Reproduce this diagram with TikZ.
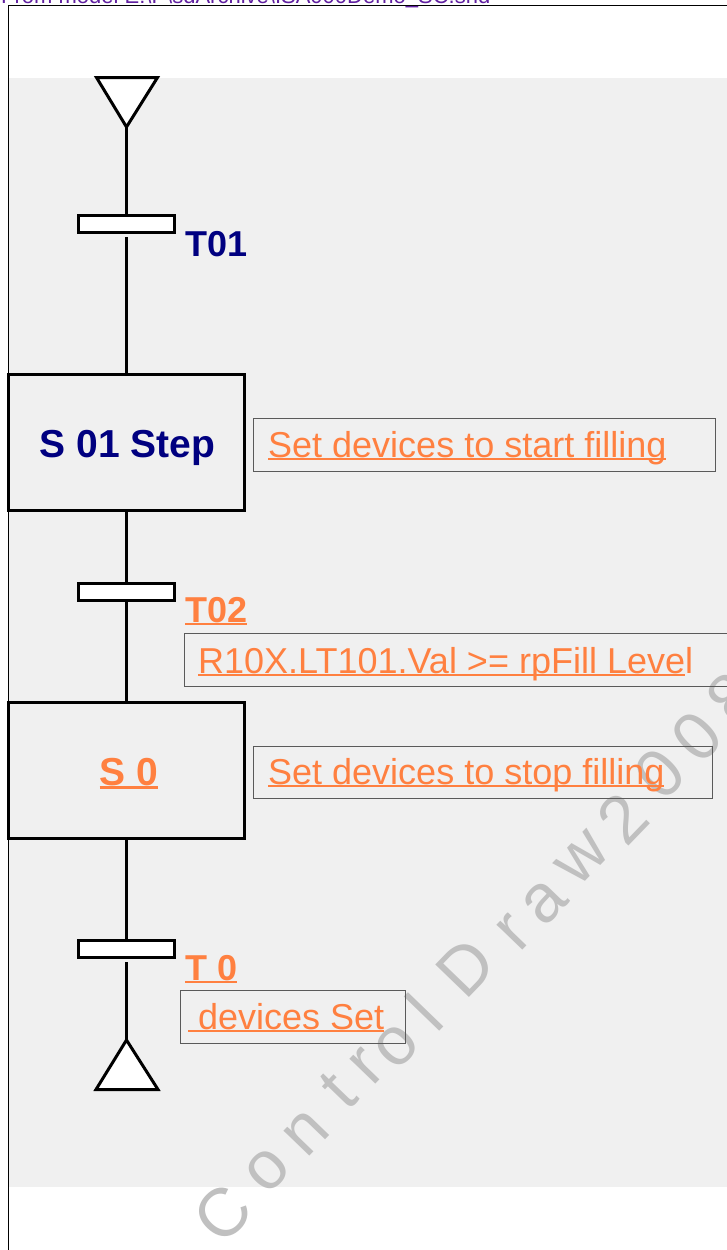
\documentclass[tikz,border=0pt]{standalone}
\usepackage{fontspec}
\setmainfont{Liberation Sans}
\definecolor{navyc}{RGB}{0,0,128}
\definecolor{orangec}{RGB}{255,128,64}
\definecolor{purplec}{RGB}{96,32,160}
\definecolor{bgc}{RGB}{240,240,240}
\definecolor{wmc}{RGB}{192,192,192}
\definecolor{boxc}{RGB}{90,90,90}
\newcommand\ulx[1]{\setbox0=\hbox{#1}\rlap{\rule[-0.09em]{\wd0}{0.075em}}\box0}
\begin{document}
\begin{tikzpicture}[x=1pt,y=-1pt,
  stepbox/.style={draw=black,line width=3pt,minimum width=236pt,minimum height=136pt,inner sep=0pt},
  transbox/.style={draw=black,fill=white,line width=3pt,minimum width=96pt,minimum height=17pt,inner sep=0pt},
  actbox/.style={draw=boxc,line width=1.2pt,inner sep=0pt,anchor=north west},
  conn/.style={line width=2.5pt,black},
  tri/.style={draw=black,fill=white,line width=3pt,line join=miter},
  bigtxt/.style={font=\fontsize{36}{40}\selectfont,inner sep=0pt,anchor=base west},
  navytxt/.style={bigtxt,text=navyc,font=\fontsize{36}{40}\selectfont\bfseries},
  orbold/.style={bigtxt,text=orangec,font=\fontsize{36}{40}\selectfont\bfseries},
  ortxt/.style={bigtxt,text=orangec},
  steptxt/.style={inner sep=0pt,anchor=base,font=\fontsize{39}{40}\selectfont\bfseries},
  wm/.style={text=wmc,font=\fontsize{68}{68}\selectfont,rotate=46,inner sep=0pt}]
\useasboundingbox (0,0) rectangle (727,1250);
% background and frame
\fill[white] (0,0) rectangle (727,1250);
\fill[bgc] (9,78) rectangle (727,1187);
\draw[black,line width=1pt] (8,1251) -- (8,5.5) -- (728,5.5);
\node[inner sep=0pt,anchor=base west,text=purplec,font=\fontsize{22}{22}\selectfont] (hdr) at (1,3.5) {From model E:\textbackslash P\textbackslash sdArchive\textbackslash ISA000Demo\_SC.snd};
% watermark
\foreach \ch/\px/\py [count=\i] in {C/223/1214, o/268/1170, n/306/1133, t/338/1091, r/367/1067, o/397/1046, l/424/1012, D/466/968, r/514/933, a/545/902, w/583/858, 2/623/818, 0/660/774, 0/697/737, 8/732/698}
  \node[wm] (wm\i) at (\px,\py) {\ch};
% top initial triangle
\coordinate (tritop) at (126.5,127);
\draw[tri] (96.5,77.5) -- (157.5,77.5) -- (tritop) -- cycle;
% transition T01
\node[transbox] (t1) at (126.5,224) {};
\node[navytxt] (t1l) at (185,256) {T01};
% step S01
\node[stepbox] (s1) at (126.5,442.5) {};
\node[steptxt,text=navyc] (s1l) at (127.5,457) {S 01 Step};
\node[actbox,minimum width=462pt,minimum height=53pt] (a1) at (253,418) {};
\node[ortxt] (a1l) at (268,457) {\ulx{Set devices to start filling}};
% transition T02
\node[transbox] (t2) at (126.5,591.5) {};
\node[orbold] (t2l) at (185,622) {\ulx{T02}};
\node[actbox,minimum width=560pt,minimum height=53pt] (c2) at (184,633) {};
\node[ortxt] (c2l) at (198,673) {\ulx{R10X.LT101.Val >= rpFill Leve}l};
% step S0
\node[stepbox] (s0) at (126.5,770) {};
\node[steptxt,text=orangec] (s0l) at (129,785) {\ulx{S 0}};
\node[actbox,minimum width=459pt,minimum height=52pt] (a2) at (253,746) {};
\node[ortxt] (a2l) at (268,784) {\ulx{Set devices to stop filling}};
% transition T0
\node[transbox] (t0) at (126.5,949) {};
\node[orbold] (t0l) at (185,980) {\ulx{T 0}};
\node[actbox,minimum width=225pt,minimum height=53pt] (c0) at (180,990) {};
\node[ortxt] (c0l) at (188,1029) {\ulx{\ devices Set}};
% final triangle
\coordinate (tribot) at (126.5,1040);
\draw[tri] (tribot) -- (158,1089.5) -- (96,1089.5) -- cycle;
% connectors
\draw[conn] (tritop) -- (t1.north);
\draw[conn,shorten <=3pt] (t1.south) -- (s1.north);
\draw[conn] (s1.south) -- (t2.north);
\draw[conn] (t2.south) -- (s0.north);
\draw[conn] (s0.south) -- (t0.north);
\draw[conn,shorten <=3pt] (t0.south) -- (tribot);
\end{tikzpicture}
\end{document}
